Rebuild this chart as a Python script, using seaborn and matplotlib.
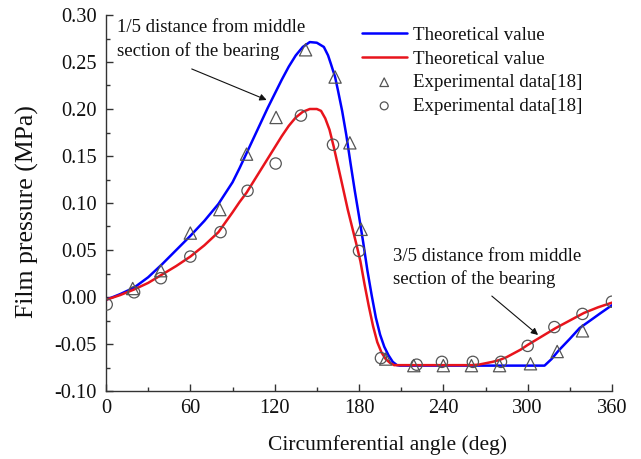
import numpy as np
import pandas as pd
import matplotlib
matplotlib.use("Agg")
import matplotlib.pyplot as plt
import seaborn as sns

# Theoretical curve, 1/5 distance (blue)
blue_x = [0, 10, 20, 30, 40, 50, 60, 70, 80, 90, 95, 100, 105, 110, 115, 120, 125, 130,
          135, 140, 145, 150, 155, 158, 160, 163, 165, 168, 171, 174, 177, 180, 183, 186,
          189, 192, 195, 198, 201, 204, 207, 209, 260, 312, 317, 322, 330, 337, 345, 352,
          360]
blue_y = [-0.003, 0.003, 0.010, 0.021, 0.035, 0.050, 0.065, 0.081, 0.099, 0.122, 0.137,
          0.153, 0.169, 0.185, 0.201, 0.216, 0.231, 0.245, 0.257, 0.266, 0.2712, 0.2705,
          0.266, 0.257, 0.248, 0.234, 0.220, 0.198, 0.172, 0.142, 0.113, 0.086, 0.058,
          0.028, 0.002, -0.022, -0.040, -0.053, -0.062, -0.069, -0.0725, -0.073, -0.073,
          -0.073, -0.066, -0.057, -0.0445, -0.033, -0.0245, -0.017, -0.0087]

# Theoretical curve, 3/5 distance (red)
red_x = [0, 10, 20, 30, 40, 50, 60, 70, 80, 90, 95, 100, 105, 110, 115, 120, 125, 130,
         135, 140, 145, 150, 153, 156, 159, 162, 165, 168, 172, 175, 178, 181, 184, 187,
         190, 193, 196, 199, 202, 205, 260, 265, 270, 275, 280, 285, 290, 295, 300, 305,
         310, 315, 320, 330, 340, 350, 360]
red_y = [-0.003, 0.002, 0.008, 0.015, 0.024, 0.033, 0.043, 0.055, 0.069, 0.090, 0.101,
         0.111, 0.123, 0.135, 0.147, 0.159, 0.171, 0.182, 0.191, 0.197, 0.2, 0.2, 0.198,
         0.190, 0.178, 0.160, 0.140, 0.120, 0.093, 0.075, 0.057, 0.038, 0.013, -0.010,
         -0.031, -0.048, -0.059, -0.066, -0.070, -0.0725, -0.0725, -0.072, -0.0705,
         -0.069, -0.067, -0.064, -0.060, -0.056, -0.051, -0.0465, -0.042, -0.0375,
         -0.033, -0.025, -0.017, -0.011, -0.006]

# Experimental data (triangles)
tri_x = [19, 39, 60, 81, 100, 121, 142, 163, 173.5, 181.5, 199, 219, 240, 260, 280, 302,
         321, 339]
tri_y = [0.009, 0.028, 0.068, 0.093, 0.152, 0.191, 0.263, 0.234, 0.164, 0.072, -0.066,
         -0.073, -0.073, -0.073, -0.073, -0.071, -0.058, -0.036]

# Experimental data (circles)
cir_x = [0.5, 20, 39, 60, 81.5, 100.7, 120.7, 138.7, 161.5, 180, 195.6, 221, 239, 261,
         281, 300, 319, 339, 360]
cir_y = [-0.008, 0.005, 0.020, 0.043, 0.069, 0.113, 0.142, 0.193, 0.162, 0.049, -0.065,
         -0.072, -0.069, -0.069, -0.069, -0.052, -0.032, -0.018, -0.005]

x_ticks = [0, 60, 120, 180, 240, 300, 360]
y_ticks = [-0.10, -0.05, 0.00, 0.05, 0.10, 0.15, 0.20, 0.25, 0.30]

sns.set_style("ticks")
plt.rcParams["font.family"] = ["Liberation Serif", "DejaVu Serif"]
SERIF = ["Liberation Serif", "DejaVu Serif"]

fig = plt.figure(figsize=(6.41, 4.59), dpi=100)
ax = fig.add_axes([106 / 641, 1 - 391 / 459, (612 - 106) / 641, (391 - 15) / 459])

blue_df = pd.DataFrame({"x": blue_x, "y": blue_y})
red_df = pd.DataFrame({"x": red_x, "y": red_y})
tri_df = pd.DataFrame({"x": tri_x, "y": tri_y})
cir_df = pd.DataFrame({"x": cir_x, "y": cir_y})

sns.lineplot(data=blue_df, x="x", y="y", color="#0000ff", linewidth=1.8, ax=ax,
             label="Theoretical value", sort=False, solid_joinstyle="round")
sns.lineplot(data=red_df, x="x", y="y", color="#e8141c", linewidth=1.8, ax=ax,
             label="Theoretical value", sort=False, solid_joinstyle="round")
sns.scatterplot(data=tri_df, x="x", y="y", marker="^", s=78, color="#555555", ax=ax,
                label="Experimental data[18]", zorder=5)
ax.collections[-1].set_facecolor("none")
ax.collections[-1].set_edgecolor("#555555")
ax.collections[-1].set_linewidth(0.9)
sns.scatterplot(data=cir_df, x="x", y="y", marker="o", s=66, color="#555555", ax=ax,
                label="Experimental data[18]", zorder=5)
ax.collections[-1].set_facecolor("none")
ax.collections[-1].set_edgecolor("#555555")
ax.collections[-1].set_linewidth(0.9)

ax.set_xlim(0, 360)
ax.set_ylim(-0.10, 0.30)
ax.set_xticks(x_ticks)
ax.set_xticklabels([str(v) for v in x_ticks])
ax.set_yticks(y_ticks)
ax.set_yticklabels([f"{v:.2f}" for v in y_ticks])
ax.set_xticks(np.arange(30, 360, 60), minor=True)
ax.set_yticks(np.arange(-0.075, 0.30, 0.05), minor=True)
ax.tick_params(axis="both", which="major", direction="in", length=5, width=1,
               labelsize=14.7, color="#333333", labelcolor="#111111")
ax.tick_params(axis="both", which="minor", direction="in", length=3, width=1,
               color="#333333")
ax.tick_params(axis="x", pad=6)
ax.tick_params(axis="y", pad=6.5)
for lab in ax.get_xticklabels() + ax.get_yticklabels():
    lab.set_fontfamily(SERIF)
for side in ["top", "right"]:
    ax.spines[side].set_visible(False)
for side in ["left", "bottom"]:
    ax.spines[side].set_color("#333333")
    ax.spines[side].set_linewidth(1.0)

ax.set_xlabel("Circumferential angle (deg)", fontsize=15.5, color="#111111", family=SERIF)
ax.xaxis.set_label_coords((388 - 106) / 506, -0.118)
ax.set_ylabel("Film pressure (MPa)", fontsize=18.5, color="#111111", family=SERIF)
ax.yaxis.set_label_coords(-0.132, 0.478)

ax.text(8, 0.274, "1/5 distance from middle\nsection of the bearing", ha="left",
        va="center", fontsize=13.5, color="#111111", linespacing=1.5, family=SERIF)
ax.annotate("", xy=(114.3, 0.2096), xytext=(61, 0.2426),
            arrowprops=dict(arrowstyle="-|>", color="#111111", lw=0.8,
                            mutation_scale=10, shrinkA=0, shrinkB=0))
ax.text(204, 0.031, "3/5 distance from middle\nsection of the bearing", ha="left",
        va="center", fontsize=13.5, color="#111111", linespacing=1.4, family=SERIF)
ax.annotate("", xy=(307.4, -0.0404), xytext=(274.5, 0.001),
            arrowprops=dict(arrowstyle="-|>", color="#111111", lw=0.8,
                            mutation_scale=10, shrinkA=0, shrinkB=0))

leg = ax.legend(loc="upper left", bbox_to_anchor=(0.505, 0.969), frameon=False,
                prop={"family": SERIF, "size": 13.6}, handlelength=2.4,
                handletextpad=0.3, labelspacing=0.34, borderpad=0, borderaxespad=0,
                markerscale=0.7)
for t in leg.get_texts():
    t.set_color("#111111")

fig.savefig("out.png", dpi=100)
